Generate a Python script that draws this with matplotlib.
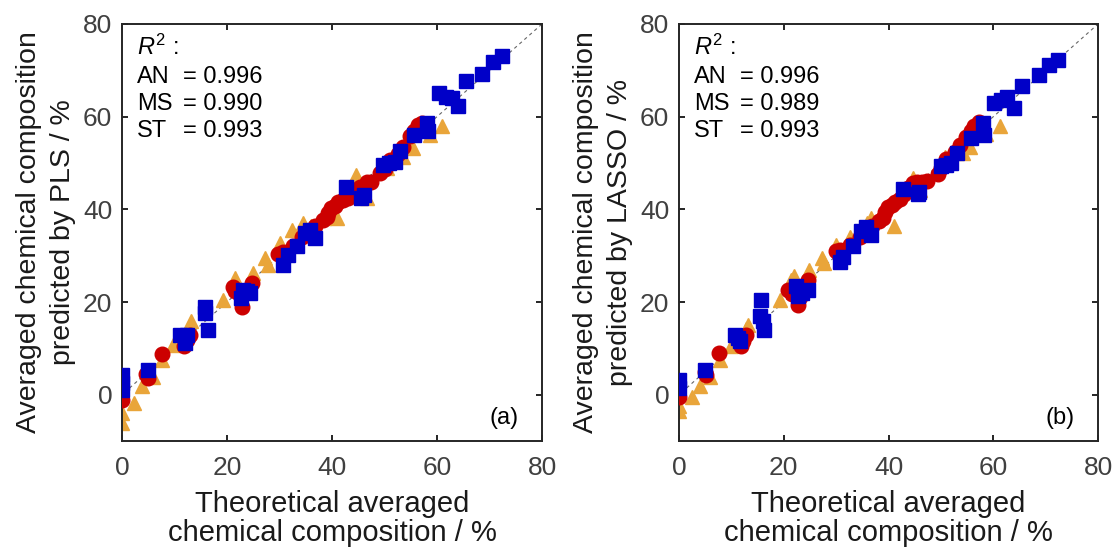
import matplotlib
matplotlib.use("Agg")
import matplotlib.pyplot as plt

plt.rcParams['font.family'] = ['Liberation Sans', 'DejaVu Sans']
plt.rcParams['mathtext.fontset'] = 'custom'
plt.rcParams['mathtext.rm'] = 'Liberation Sans'
plt.rcParams['mathtext.it'] = 'Liberation Sans:italic'

# ---- data: (a) PLS ----
pls_an_x = [0, 5.0, 4.6, 7.6, 11.8, 12.3, 13.0, 22.8, 21.2, 21.6, 24.7, 22.5, 29.8, 30.6, 32.5,
            34.2, 35.3, 36.8, 38.2, 39.0, 39.3, 39.8, 40.5, 41.2, 42.0, 43.0, 43.6, 44.5, 45.3,
            46.6, 47.4, 49.1, 50.0, 51.0, 52.5, 53.6, 54.9, 55.7, 56.4, 57.2]
pls_an_y = [-1.1, 3.6, 4.5, 8.8, 10.4, 11.8, 12.9, 19.0, 23.3, 22.3, 24.2, 21.5, 30.3, 30.8, 32.0,
            34.1, 35.0, 36.3, 37.6, 38.4, 39.3, 40.2, 40.8, 41.5, 42.0, 42.5, 43.5, 44.2, 44.9,
            45.8, 46.0, 47.8, 48.8, 50.7, 52.0, 53.5, 55.8, 56.8, 58.2, 58.6]
pls_ms_x = [0, 0, 2.2, 3.9, 6.0, 7.7, 9.8, 12.6, 13.1, 19.3, 21.5, 25.0, 27.2, 27.9, 30.1, 32.3,
            34.5, 36.0, 38.4, 41.0, 44.6, 46.6, 50.5, 53.6, 55.5, 58.7, 61.0]
pls_ms_y = [-6.1, -4.0, -1.8, 1.8, 3.9, 7.5, 10.8, 14.0, 15.8, 20.5, 25.1, 26.2, 29.4, 28.0, 32.7,
            35.6, 37.0, 36.5, 38.1, 38.1, 47.4, 42.4, 49.0, 51.4, 53.2, 56.1, 57.9]
pls_st_x = [72.3, 70.7, 68.5, 65.5, 60.3, 61.8, 62.8, 64.0, 58.0, 58.3, 55.6, 53.0, 52.0, 49.8,
            50.8, 42.7, 46.0, 45.5, 35.8, 36.8, 34.9, 33.3, 31.7, 30.7, 23.1, 24.4, 22.6, 23.8,
            15.8, 15.8, 16.3, 11.0, 12.3, 12.0, 4.9, 0, 0, 0]
pls_st_y = [73.1, 71.7, 69.2, 67.6, 65.0, 64.3, 64.0, 62.3, 58.7, 56.8, 56.1, 52.5, 50.3, 49.6,
            50.0, 44.8, 43.1, 42.5, 35.6, 33.8, 34.9, 32.0, 30.2, 28.0, 22.6, 21.9, 20.8, 22.3,
            17.6, 19.0, 14.0, 12.9, 12.9, 11.1, 5.4, 4.3, 2.5, 1.1]

# ---- data: (b) LASSO ----
lasso_an_x = [0, 4.9, 5.2, 7.6, 11.9, 12.3, 12.8, 22.7, 20.8, 21.5, 24.6, 23.0, 29.9, 30.8, 32.6,
              34.5, 35.4, 36.8, 38.2, 38.9, 39.3, 39.9, 40.6, 41.3, 42.1, 43.0, 43.8, 44.6, 45.5,
              46.4, 47.4, 49.4, 50.1, 51.0, 52.6, 53.6, 54.8, 55.7, 56.4, 57.3]
lasso_an_y = [-0.5, 5.0, 4.3, 9.1, 10.4, 11.6, 12.9, 19.4, 22.6, 21.8, 24.8, 21.0, 30.9, 31.3, 32.3,
              34.0, 35.2, 36.4, 37.5, 38.1, 39.4, 40.4, 40.9, 41.6, 42.2, 43.4, 44.5, 45.6, 45.8,
              46.0, 46.1, 47.6, 48.9, 50.8, 52.3, 53.8, 55.6, 56.9, 58.0, 58.9]
lasso_ms_x = [0, 0, 2.4, 4.0, 5.9, 7.8, 10.0, 12.7, 13.2, 19.2, 21.4, 22.0, 24.9, 27.2, 27.6, 30.0,
              32.6, 35.9, 36.7, 41.1, 44.6, 46.0, 50.7, 54.2, 55.6, 58.6, 61.2]
lasso_ms_y = [-3.6, -2.4, -0.4, 1.8, 3.9, 7.5, 10.4, 14.2, 15.1, 20.5, 24.8, 25.6, 27.0, 29.5, 28.5,
              32.3, 34.1, 37.0, 38.1, 36.4, 46.7, 44.2, 51.4, 52.1, 53.5, 56.3, 57.9]
lasso_st_x = [72.3, 70.7, 68.7, 65.5, 60.2, 61.5, 62.6, 64.0, 58.0, 58.3, 55.8, 53.0, 52.0, 50.1,
              51.0, 42.7, 45.9, 45.6, 35.7, 36.7, 34.8, 33.2, 31.3, 30.7, 22.4, 24.6, 22.7, 23.5,
              15.7, 15.4, 16.0, 16.3, 10.6, 11.6, 11.2, 4.9, 0, 0]
lasso_st_y = [72.2, 71.2, 69.0, 66.6, 63.0, 63.6, 64.3, 61.8, 58.7, 56.1, 55.3, 52.2, 49.9, 49.4,
              49.6, 44.3, 43.8, 43.3, 36.1, 34.5, 35.4, 32.0, 29.8, 28.7, 23.5, 22.6, 21.2, 22.0,
              20.5, 16.9, 15.8, 14.0, 12.9, 11.5, 12.2, 5.4, 3.2, 1.4]

r2_names = ['AN', 'MS', 'ST']
pls_r2 = ['0.996', '0.990', '0.993']
lasso_r2 = ['0.996', '0.989', '0.993']

c_an = '#CC0000'
c_ms = '#E9A53A'
c_st = '#0000C8'

fig = plt.figure(figsize=(11.13, 5.49), dpi=100)
ax1 = fig.add_axes([0.1096, 0.1967, 0.3774, 0.7596])
ax2 = fig.add_axes([0.6101, 0.1967, 0.3765, 0.7596])

panels = [
    (ax1, pls_an_x, pls_an_y, pls_ms_x, pls_ms_y, pls_st_x, pls_st_y, pls_r2,
     'Averaged chemical composition\npredicted by PLS / %', '(a)'),
    (ax2, lasso_an_x, lasso_an_y, lasso_ms_x, lasso_ms_y, lasso_st_x, lasso_st_y, lasso_r2,
     'Averaged chemical composition\npredicted by LASSO / %', '(b)'),
]

for ax, anx, any_, msx, msy, stx, sty, r2, ylab, tag in panels:
    ax.plot([-10, 80], [-10, 80], color='#666666', lw=0.8, ls=(0, (3, 3)), zorder=1)
    ax.plot(msx, msy, ls='none', marker='^', ms=10.5, color=c_ms, zorder=2)
    ax.plot(anx, any_, ls='none', marker='o', ms=10.5, color=c_an, zorder=3)
    ax.plot(stx, sty, ls='none', marker='s', ms=9.5, color=c_st, zorder=4)

    ax.set_xlim(0, 80)
    ax.set_ylim(-10, 80)
    ax.set_xticks([0, 20, 40, 60, 80])
    ax.set_yticks([0, 20, 40, 60, 80])
    ax.tick_params(direction='in', length=4, width=1.2, top=True, right=True,
                   labelsize=19, labelcolor='#404040')
    ax.tick_params(axis='x', pad=11)
    ax.tick_params(axis='y', pad=7)
    for sp in ax.spines.values():
        sp.set_linewidth(1.4)
        sp.set_color('#262626')

    ax.set_xlabel('Theoretical averaged\nchemical composition / %', fontsize=21,
                  linespacing=1.05, color='#1a1a1a', labelpad=7)
    ax.set_ylabel(ylab, fontsize=20.5, linespacing=1.4, color='#1a1a1a', labelpad=5)

    ax.text(2.8, 75.0, r'$\mathit{R}^2$ :', fontsize=17, va='center', ha='left')
    for i in range(3):
        yy = 68.6 - i * 5.8
        ax.text(2.8, yy, r2_names[i], fontsize=17, va='center', ha='left')
        ax.text(11.6, yy, '= ' + r2[i], fontsize=17, va='center', ha='left')
    ax.text(75.5, -5.0, tag, fontsize=17, va='center', ha='right')

fig.savefig('out.png', dpi=100)
